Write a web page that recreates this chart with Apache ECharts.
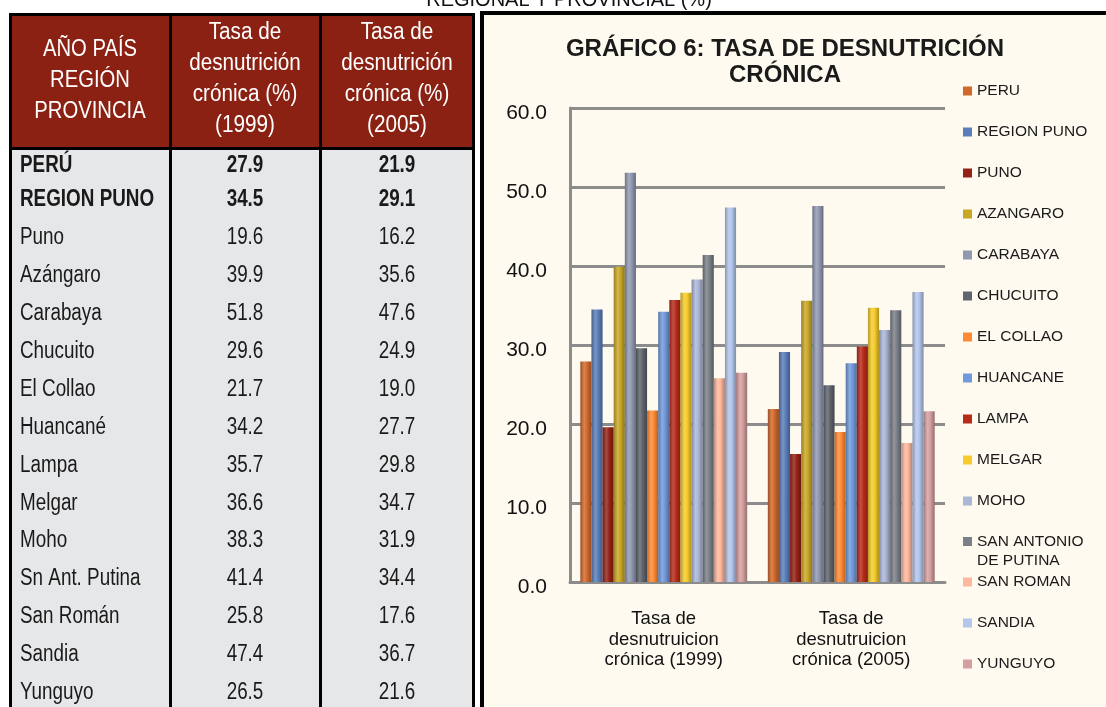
<!DOCTYPE html>
<html>
<head>
<meta charset="utf-8">
<script src="https://cdn.jsdelivr.net/npm/echarts@6/dist/echarts.min.js"></script>
<style>
html, body { margin: 0; padding: 0; background: #fff; }
#main { width: 1106px; height: 707px; }
</style>
</head>
<body>
<div id="main"></div>
<script>
// table rows (left) and chart legend names (right)
var rowNames = ['PERÚ', 'REGION PUNO', 'Puno', 'Azángaro', 'Carabaya', 'Chucuito', 'El Collao', 'Huancané',
	'Lampa', 'Melgar', 'Moho', 'Sn Ant. Putina', 'San Román', 'Sandia', 'Yunguyo'];
var seriesNames = ['PERU', 'REGION PUNO', 'PUNO', 'AZANGARO', 'CARABAYA', 'CHUCUITO', 'EL COLLAO', 'HUANCANE',
	'LAMPA', 'MELGAR', 'MOHO', 'SAN ANTONIO DE PUTINA', 'SAN ROMAN', 'SANDIA', 'YUNGUYO'];
var rate1999 = [27.9, 34.5, 19.6, 39.9, 51.8, 29.6, 21.7, 34.2, 35.7, 36.6, 38.3, 41.4, 25.8, 47.4, 26.5];
var rate2005 = [21.9, 29.1, 16.2, 35.6, 47.6, 24.9, 19.0, 27.7, 29.8, 34.7, 31.9, 34.4, 17.6, 36.7, 21.6];
var categories = ['Tasa de\ndesnutruicion\ncrónica (1999)', 'Tasa de\ndesnutruicion\ncrónica (2005)'];
var boldRows = 2;

var colors = ['#D2692C', '#5B7EB9', '#962216', '#C9A726', '#9199B1', '#5F646D', '#FF8A33', '#7299DB',
	'#B82B1A', '#F5CC2B', '#ABB7D7', '#7A7F88', '#FDB89E', '#B3C6EC', '#D49F9F'];

var arial = "'Liberation Sans', Arial, sans-serif";
var narrowScale = 0.82; // no Arial Narrow installed, squeeze Liberation Sans instead

function mix(hex, target, t) {
	hex = hex.replace('#', '');
	var r = parseInt(hex.substring(0, 2), 16);
	var g = parseInt(hex.substring(2, 4), 16);
	var b = parseInt(hex.substring(4, 6), 16);
	r = Math.round(r + (target - r) * t);
	g = Math.round(g + (target - g) * t);
	b = Math.round(b + (target - b) * t);
	return 'rgb(' + r + ',' + g + ',' + b + ')';
}

function cylinder(c) {
	return new echarts.graphic.LinearGradient(0, 0, 1, 0, [
		{offset: 0, color: mix(c, 0, 0.25)},
		{offset: 0.35, color: mix(c, 255, 0.18)},
		{offset: 0.6, color: c},
		{offset: 1, color: mix(c, 0, 0.3)}
	]);
}

function narrowText(txt, x, y, align, weight, fill, lineHeight, sx) {
	return {
		type: 'text', x: x, y: y, scaleX: sx || narrowScale,
		style: {text: txt, x: 0, y: 0, align: align, verticalAlign: 'middle', fontSize: 23,
			fontWeight: weight || 'normal', lineHeight: lineHeight || 23, fontFamily: arial, fill: fill}
	};
}

// ---- table + panel drawn with graphic elements
var g = [];
// chart panel
g.push({type: 'rect', z: -10, shape: {x: 482, y: 13, width: 640, height: 700}, style: {fill: '#FEFAF0', stroke: '#000', lineWidth: 4}});
// clipped caption on top
g.push({type: 'text', z: -5, style: {text: 'REGIONAL Y PROVINCIAL (%)', x: 569, y: 0, align: 'center', verticalAlign: 'middle',
	fontSize: 20, fontFamily: arial, fill: '#111'}});
// table backgrounds
g.push({type: 'rect', shape: {x: 12, y: 16, width: 460, height: 131}, style: {fill: '#8A2112'}});
g.push({type: 'rect', shape: {x: 12, y: 150, width: 460, height: 560}, style: {fill: '#E6E7E9'}});
// borders
g.push({type: 'rect', shape: {x: 9, y: 13, width: 466, height: 3}, style: {fill: '#000'}});
g.push({type: 'rect', shape: {x: 9, y: 147, width: 466, height: 3}, style: {fill: '#000'}});
[9, 169, 319, 472].forEach(function (x) {
	g.push({type: 'rect', shape: {x: x, y: 13, width: 3, height: 700}, style: {fill: '#000'}});
});
// header
g.push(narrowText('AÑO PAÍS\nREGIÓN\nPROVINCIA', 90, 81, 'center', 'normal', '#fff', 31, 0.88));
g.push(narrowText('Tasa de\ndesnutrición\ncrónica (%)\n(1999)', 245, 79, 'center', 'normal', '#fff', 31, 0.9));
g.push(narrowText('Tasa de\ndesnutrición\ncrónica (%)\n(2005)', 397, 79, 'center', 'normal', '#fff', 31, 0.9));
// body rows
for (var i = 0; i < rowNames.length; i++) {
	var y = i === 0 ? 166 : 200 + 37.9 * (i - 1);
	var w = i < boldRows ? 'bold' : 'normal';
	g.push(narrowText(rowNames[i], 20, y, 'left', w, '#1a1a1a'));
	g.push(narrowText(rate1999[i].toFixed(1), 245, y, 'center', w, '#1a1a1a'));
	g.push(narrowText(rate2005[i].toFixed(1), 397, y, 'center', w, '#1a1a1a'));
}
// chart title
g.push({type: 'text', style: {text: 'GRÁFICO 6: TASA DE DESNUTRICIÓN\nCRÓNICA', x: 785, y: 62, align: 'center', verticalAlign: 'middle',
	fontSize: 24, lineHeight: 26, fontWeight: 'bold', fontFamily: arial, fill: '#1a1a1a'}});

// ---- series
var series = [];
for (var k = 0; k < seriesNames.length; k++) {
	series.push({
		name: seriesNames[k],
		type: 'bar',
		barGap: '0%',
		barCategoryGap: '11%',
		itemStyle: {color: cylinder(colors[k])},
		data: [rate1999[k], rate2005[k]]
	});
}

function legendData(list) {
	return list.map(function (n) {
		return {name: n, itemStyle: {color: colors[seriesNames.indexOf(n)]}};
	});
}

var legendBase = {
	orient: 'vertical',
	left: 963,
	padding: 0,
	icon: 'rect',
	itemWidth: 9,
	itemHeight: 9,
	itemGap: 25,
	selectedMode: false,
	textStyle: {fontSize: 15.5, lineHeight: 16, fontFamily: arial, color: '#1a1a1a'}
};

var option = {
	animation: false,
	backgroundColor: '#fff',
	graphic: {elements: g},
	legend: [
		Object.assign({}, legendBase, {top: 83, data: legendData(seriesNames.slice(0, 11))}),
		// blank first line keeps the marker level with "SAN ANTONIO"
		Object.assign({}, legendBase, {top: 513, data: legendData(seriesNames.slice(11, 12)),
			formatter: function (n) { return '\nSAN ANTONIO\nDE PUTINA'; },
			textStyle: {fontSize: 15.5, lineHeight: 19, fontFamily: arial, color: '#1a1a1a'}}),
		Object.assign({}, legendBase, {top: 574, data: legendData(seriesNames.slice(12))})
	],
	grid: {left: 570, right: 161, top: 108, bottom: 125},
	xAxis: {
		type: 'category',
		data: categories,
		axisLine: {lineStyle: {color: '#8c8c8c', width: 3}},
		axisTick: {show: false},
		axisLabel: {fontSize: 18.5, lineHeight: 20.5, margin: 27, color: '#111', fontFamily: arial}
	},
	yAxis: {
		type: 'value',
		min: 0,
		max: 60,
		interval: 10,
		axisLine: {show: true, lineStyle: {color: '#8c8c8c', width: 3}},
		axisTick: {show: false},
		splitLine: {lineStyle: {color: '#8c8c8c', width: 3}},
		axisLabel: {
			color: '#111', margin: 23,
			formatter: function (v) { return '{v|' + v.toFixed(1) + '}'; },
			rich: {v: {fontSize: 21, color: '#111', fontFamily: arial, padding: [10, 0, 0, 0]}}
		}
	},
	series: series
};

var myChart = echarts.init(document.getElementById('main'));
myChart.setOption(option);
</script>
</body>
</html>
